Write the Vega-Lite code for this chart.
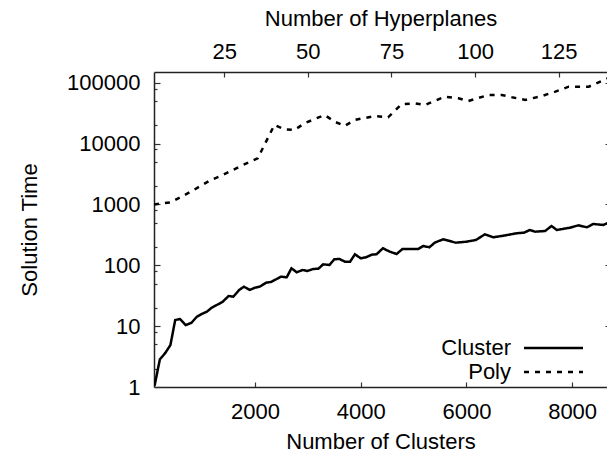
{
  "$schema": "https://vega.github.io/schema/vega-lite/v6.json",
  "width": 453,
  "height": 315,
  "autosize": {"type": "none"},
  "padding": {"left": 154, "top": 72, "right": 0, "bottom": 68},
  "background": "white",
  "config": {
    "view": {"stroke": null},
    "font": "Liberation Sans",
    "axis": {
      "labelFont": "Liberation Sans",
      "titleFont": "Liberation Sans",
      "labelFontSize": 22,
      "titleFontSize": 22,
      "titleFontWeight": "normal",
      "labelColor": "black",
      "titleColor": "black",
      "domainColor": "#222",
      "domainWidth": 1.5,
      "tickColor": "#333",
      "tickWidth": 1.2,
      "grid": false,
      "labelOverlap": false,
      "labelFlush": false
    },
    "legend": {
      "labelFont": "Liberation Sans",
      "labelFontSize": 22,
      "labelColor": "black"
    }
  },
  "datasets": {
    "cluster": [
      {"clusters": 100, "time": 1.05},
      {"clusters": 200, "time": 2.85},
      {"clusters": 300, "time": 3.6},
      {"clusters": 400, "time": 4.9},
      {"clusters": 490, "time": 12.6},
      {"clusters": 580, "time": 13.1},
      {"clusters": 690, "time": 10.4},
      {"clusters": 800, "time": 11.4},
      {"clusters": 900, "time": 14.3},
      {"clusters": 990, "time": 15.8},
      {"clusters": 1090, "time": 17.3},
      {"clusters": 1180, "time": 20.1},
      {"clusters": 1280, "time": 22.3},
      {"clusters": 1390, "time": 25.2},
      {"clusters": 1500, "time": 31.3},
      {"clusters": 1590, "time": 30.5},
      {"clusters": 1700, "time": 39.3},
      {"clusters": 1790, "time": 44.5},
      {"clusters": 1900, "time": 39.3},
      {"clusters": 2000, "time": 42.9},
      {"clusters": 2090, "time": 44.5},
      {"clusters": 2210, "time": 51.8},
      {"clusters": 2300, "time": 53.2},
      {"clusters": 2400, "time": 58.9},
      {"clusters": 2490, "time": 65.0},
      {"clusters": 2600, "time": 63.5},
      {"clusters": 2690, "time": 89.3},
      {"clusters": 2790, "time": 76.7},
      {"clusters": 2900, "time": 83.7},
      {"clusters": 2990, "time": 80.6},
      {"clusters": 3100, "time": 86.9},
      {"clusters": 3200, "time": 87.9},
      {"clusters": 3290, "time": 103.8},
      {"clusters": 3410, "time": 101.1},
      {"clusters": 3500, "time": 125.5},
      {"clusters": 3600, "time": 126.9},
      {"clusters": 3700, "time": 114.6},
      {"clusters": 3800, "time": 114.6},
      {"clusters": 3890, "time": 151.6},
      {"clusters": 4000, "time": 130.3},
      {"clusters": 4100, "time": 135.3},
      {"clusters": 4210, "time": 149.3},
      {"clusters": 4300, "time": 151.6},
      {"clusters": 4420, "time": 190.3},
      {"clusters": 4550, "time": 167.4},
      {"clusters": 4680, "time": 153.4},
      {"clusters": 4790, "time": 185.3},
      {"clusters": 5090, "time": 185.3},
      {"clusters": 5180, "time": 207.6},
      {"clusters": 5300, "time": 197.6},
      {"clusters": 5400, "time": 235.1},
      {"clusters": 5560, "time": 267.5},
      {"clusters": 5800, "time": 235.1},
      {"clusters": 6000, "time": 244.2},
      {"clusters": 6180, "time": 260.6},
      {"clusters": 6350, "time": 323},
      {"clusters": 6510, "time": 288.4},
      {"clusters": 6700, "time": 306.4},
      {"clusters": 6950, "time": 335.7},
      {"clusters": 7090, "time": 343.4},
      {"clusters": 7200, "time": 380.2},
      {"clusters": 7300, "time": 356.6},
      {"clusters": 7490, "time": 366.3},
      {"clusters": 7610, "time": 442.6},
      {"clusters": 7710, "time": 380.2},
      {"clusters": 7960, "time": 414.9},
      {"clusters": 8120, "time": 454.1},
      {"clusters": 8280, "time": 421.0},
      {"clusters": 8400, "time": 477.3},
      {"clusters": 8590, "time": 459.6},
      {"clusters": 8660, "time": 490},
      {"clusters": 8740, "time": 500}
    ],
    "poly": [
      {"hyperplanes": 4, "time": 1000},
      {"hyperplanes": 9, "time": 1080},
      {"hyperplanes": 15, "time": 1620},
      {"hyperplanes": 21, "time": 2520},
      {"hyperplanes": 24, "time": 2940},
      {"hyperplanes": 30, "time": 4290},
      {"hyperplanes": 35, "time": 5730},
      {"hyperplanes": 37, "time": 9480},
      {"hyperplanes": 40, "time": 20200},
      {"hyperplanes": 43, "time": 17200},
      {"hyperplanes": 46, "time": 16700},
      {"hyperplanes": 49, "time": 21600},
      {"hyperplanes": 55, "time": 29500},
      {"hyperplanes": 58, "time": 22900},
      {"hyperplanes": 61, "time": 19500},
      {"hyperplanes": 64, "time": 24400},
      {"hyperplanes": 70, "time": 28400},
      {"hyperplanes": 74, "time": 27000},
      {"hyperplanes": 78, "time": 44300},
      {"hyperplanes": 82, "time": 45900},
      {"hyperplanes": 85, "time": 43100},
      {"hyperplanes": 91, "time": 59000},
      {"hyperplanes": 95, "time": 55500},
      {"hyperplanes": 98, "time": 50100},
      {"hyperplanes": 104, "time": 62900},
      {"hyperplanes": 108, "time": 62900},
      {"hyperplanes": 111, "time": 57700},
      {"hyperplanes": 115, "time": 52100},
      {"hyperplanes": 120, "time": 60600},
      {"hyperplanes": 124, "time": 71300},
      {"hyperplanes": 128, "time": 86100},
      {"hyperplanes": 134, "time": 86100},
      {"hyperplanes": 139, "time": 114000},
      {"hyperplanes": 140.5, "time": 125000}
    ]
  },
  "layer": [
    {
      "data": {"name": "cluster"},
      "mark": {"type": "line", "color": "black", "strokeWidth": 2.5, "clip": true},
      "encoding": {
        "x": {
          "field": "clusters",
          "type": "quantitative",
          "scale": {"domain": [89, 8660], "nice": false, "zero": false},
          "axis": {
            "orient": "bottom",
            "values": [2000, 4000, 6000, 8000],
            "format": "d",
            "tickSize": -5,
            "labelPadding": 19,
            "title": "Number of Clusters",
            "titlePadding": 9
          }
        },
        "y": {
          "field": "time",
          "type": "quantitative",
          "scale": {"type": "log", "domain": [1, 150000], "nice": false},
          "axis": {
            "orient": "left",
            "values": [1, 2, 5, 8, 10, 20, 50, 80, 100, 200, 500, 800, 1000, 2000, 5000, 8000, 10000, 20000, 50000, 80000, 100000],
            "format": "d",
            "labelExpr": "indexof([1,10,100,1000,10000,100000], datum.value) >= 0 ? datum.label : ''",
            "tickSize": {"condition": {"test": "indexof([1,10,100,1000,10000,100000], datum.value) >= 0", "value": -6}, "value": -3},
            "labelPadding": 20,
            "title": "Solution Time",
            "titlePadding": 25
          }
        },
        "strokeDash": {
          "datum": "Cluster",
          "type": "nominal",
          "scale": {"domain": ["Cluster", "Poly"], "range": [[1, 0], [5, 6]]},
          "legend": {
            "title": null,
            "orient": "none",
            "legendX": 388.5,
            "legendY": 265,
            "padding": 0,
            "symbolType": "M-5.9,0H5.9",
            "symbolSize": 100,
            "symbolStrokeWidth": 2.5,
            "symbolStrokeColor": "black",
            "rowPadding": 2,
            "labelAlign": "right",
            "labelOffset": -53.5
          }
        }
      }
    },
    {
      "data": {"name": "poly"},
      "mark": {"type": "line", "color": "black", "strokeWidth": 2.5, "clip": true},
      "encoding": {
        "x": {
          "field": "hyperplanes",
          "type": "quantitative",
          "scale": {"domain": [4, 139.44], "nice": false, "zero": false},
          "axis": {
            "orient": "top",
            "values": [25, 50, 75, 100, 125],
            "format": "d",
            "tickSize": -5,
            "labelPadding": 14,
            "title": "Number of Hyperplanes",
            "titlePadding": 10
          }
        },
        "y": {
          "field": "time",
          "type": "quantitative",
          "scale": {"type": "log", "domain": [1, 150000], "nice": false},
          "axis": {
            "orient": "right",
            "values": [1, 10, 100, 1000, 10000, 100000],
            "labels": false,
            "domain": false,
            "tickSize": -2,
            "title": null
          }
        },
        "strokeDash": {
          "datum": "Poly",
          "type": "nominal",
          "scale": {"domain": ["Cluster", "Poly"], "range": [[1, 0], [5, 6]]},
          "legend": {
            "title": null,
            "orient": "none",
            "legendX": 388.5,
            "legendY": 265,
            "padding": 0,
            "symbolType": "M-5.9,0H5.9",
            "symbolSize": 100,
            "symbolStrokeWidth": 2.5,
            "symbolStrokeColor": "black",
            "rowPadding": 2,
            "labelAlign": "right",
            "labelOffset": -53.5
          }
        }
      }
    }
  ],
  "resolve": {
    "scale": {"x": "independent"},
    "axis": {"x": "independent", "y": "independent"}
  }
}
